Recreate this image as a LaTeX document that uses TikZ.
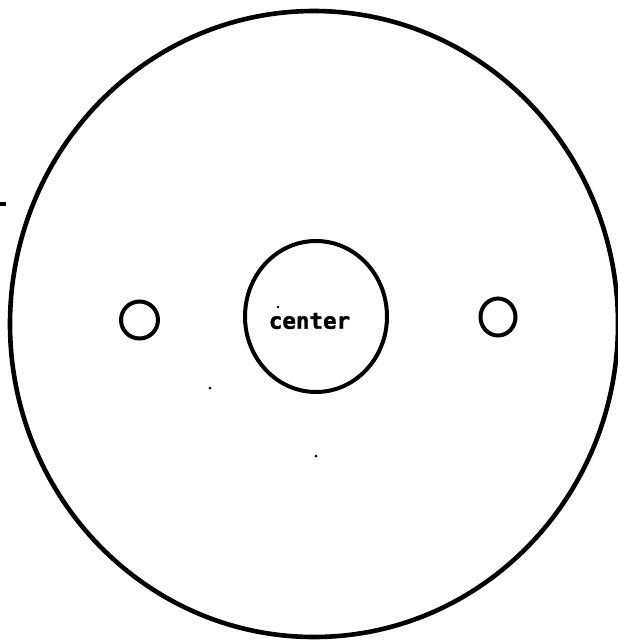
\documentclass[tikz,border=0pt]{standalone}
\usepackage{fontspec}
\newfontfamily\labelfont[BoldFeatures={FakeBold=1.6}]{DejaVu Sans Mono}
\tikzset{
  outline/.style={draw=black, line width=4.6pt},
  ring/.style={draw=black, line width=4pt, fill=none},
  speck/.style={fill=black, draw=none},
  lbl/.style={font=\labelfont\bfseries\fontsize{22.5}{24}\selectfont, inner sep=0pt}
}
\begin{document}
\begin{tikzpicture}[x=1pt,y=-1pt]
\useasboundingbox (0,0) rectangle (618,641);
\fill[white] (0,0) rectangle (618,641);
% outer disc
\coordinate (bigc) at (314,324);
\draw[outline] (bigc) ellipse [x radius=304, y radius=313];
% centre disc
\coordinate (cc) at (316,316.5);
\draw[ring] (cc) ellipse [x radius=71, y radius=75.5];
\node[lbl] (center) at (309.5,321) {center};
% small holes
\coordinate (lh) at (139.5,320);
\coordinate (rh) at (498,317);
\draw[ring] (lh) ellipse [x radius=18.5, y radius=18.5];
\draw[ring] (rh) ellipse [x radius=17.5, y radius=18.5];
% stray marks
\coordinate (d1) at (0,204);
\coordinate (d2) at (6,204);
\draw[line width=4.5pt] (d1) -- (d2);
\fill[speck] (278,307) circle (1.4);
\fill[speck] (210,388) circle (1.5);
\fill[speck] (316,456) circle (1.5);
\end{tikzpicture}
\end{document}
